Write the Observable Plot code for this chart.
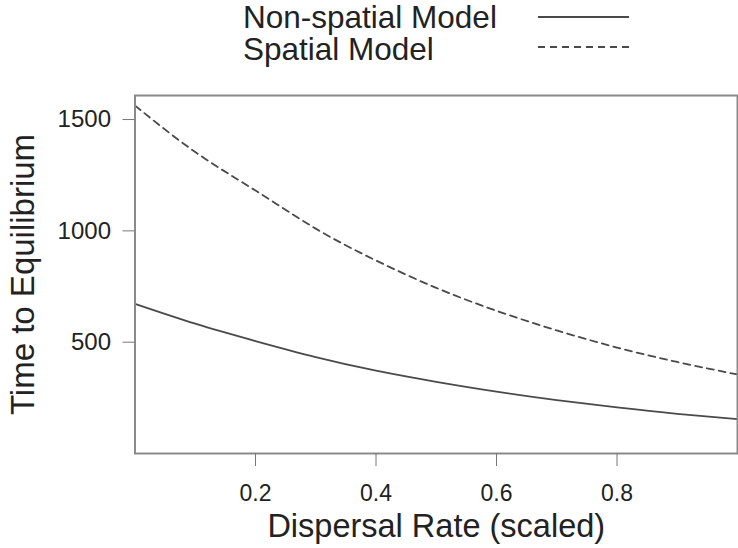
<!DOCTYPE html>
<html>
<head>
<meta charset="utf-8">
<script src="https://cdn.jsdelivr.net/npm/d3@7"></script>
<script src="https://cdn.jsdelivr.net/npm/@observablehq/plot@0.6"></script>
<style>
  html, body { margin: 0; padding: 0; background: white; }
  body { width: 738px; height: 548px; overflow: hidden; font-family: "Liberation Sans", Arial, sans-serif; }
  #legend { position: relative; width: 738px; height: 68px; }
  #chart svg { display: block; }
</style>
</head>
<body>
<div id="legend"></div>
<div id="chart"></div>
<script>
// ---- data ----
const dispersal = [0, 0.1, 0.2, 0.3, 0.4, 0.5, 0.6, 0.7, 0.8, 0.9, 1.0];
const nonSpatial = [672, 583, 505, 433, 372, 322, 278, 240, 207, 178, 154];
const spatial = [1563, 1354, 1181, 1010, 867, 744, 641, 553, 476, 411, 355];
const seriesNames = ["Non-spatial Model", "Spatial Model"];
const xTicks = [0.2, 0.4, 0.6, 0.8];
const yTicks = [500, 1000, 1500];
const xLabel = "Dispersal Rate (scaled)";
const yLabel = "Time to Equilibrium";

const lineColor = "#4a4a4a";
const dashes = [null, "7,5"];
const font = "Liberation Sans, Arial, sans-serif";

const rows = [];
seriesNames.forEach((name, i) => {
  const vals = i === 0 ? nonSpatial : spatial;
  dispersal.forEach((x, j) => rows.push({series: name, x, y: vals[j]}));
});

// ---- legend (above the plot) ----
const leg = d3.select("#legend").append("svg").attr("width", 738).attr("height", 68);
seriesNames.forEach((name, i) => {
  const base = 28 + i * 32;
  leg.append("text").attr("x", 243).attr("y", base)
    .attr("font-size", 31.5).attr("fill", "#222")
    .attr("font-family", font).text(name);
  const ly = i === 0 ? 17 : 47;
  leg.append("line").attr("x1", 538).attr("x2", 629)
    .attr("y1", ly).attr("y2", ly)
    .attr("stroke", lineColor).attr("stroke-width", 1.8)
    .attr("stroke-dasharray", dashes[i]);
});

// ---- plot ----
const plot = Plot.plot({
  width: 738,
  height: 480,
  marginTop: 27,
  marginBottom: 95,
  marginLeft: 134.5,
  marginRight: 1,
  style: {fontFamily: font, fontSize: "24px", color: "#222", background: "white", overflow: "visible"},
  x: {domain: [0, 1]},
  y: {domain: [0, 1608]},
  marks: [
    Plot.line(rows.filter(d => d.series === seriesNames[0]), {x: "x", y: "y", stroke: lineColor, strokeWidth: 1.8, curve: "natural"}),
    Plot.line(rows.filter(d => d.series === seriesNames[1]), {x: "x", y: "y", stroke: lineColor, strokeWidth: 1.8, strokeDasharray: dashes[1], curve: "natural"}),
    Plot.frame({stroke: "#8a8a8a", strokeWidth: 2}),
    Plot.axisX({ticks: xTicks, tickFormat: d3.format(".1f"), tickSize: 13, tickPadding: 18, stroke: "#777", fill: "#222", label: null, fontSize: 23}),
    Plot.axisY({ticks: yTicks, tickFormat: d3.format("d"), tickSize: 12, tickPadding: 12, stroke: "#777", fill: "#222", label: null, fontSize: 24}),
    Plot.text([xLabel], {frameAnchor: "bottom", dy: 83, fontSize: 32.5, fill: "#222", text: d => d, textAnchor: "middle"}),
    Plot.text([yLabel], {frameAnchor: "left", dx: -112, rotate: -90, fontSize: 33, fill: "#222", text: d => d, textAnchor: "middle"})
  ]
});
document.getElementById("chart").appendChild(plot);
</script>
</body>
</html>
